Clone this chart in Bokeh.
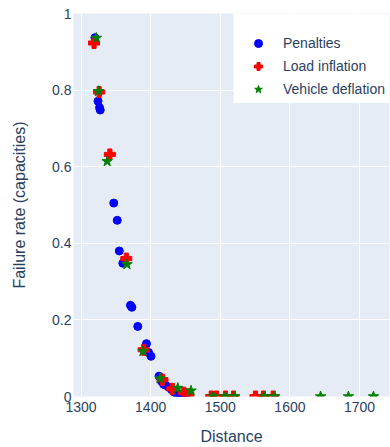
from bokeh.plotting import figure
from bokeh.models import Range1d, FixedTicker, Legend, LegendItem, BoxAnnotation
from bokeh.embed import file_html
from bokeh.resources import INLINE

# ---- data ----
pen_x = [1320, 1324.4, 1326.6, 1327.6, 1347, 1352, 1355, 1360, 1371, 1373,
         1381.5, 1394, 1397, 1400.5, 1412, 1415.5, 1418.5, 1421, 1425.5, 1430,
         1433.5, 1438, 1441.5, 1446, 1450]
pen_y = [0.937, 0.771, 0.754, 0.748, 0.505, 0.460, 0.380, 0.348, 0.238, 0.233,
         0.183, 0.138, 0.115, 0.105, 0.053, 0.040, 0.032, 0.030, 0.025, 0.018,
         0.012, 0.006, 0.003, 0.001, 0.0]

load_x = [1318.7, 1326, 1341.4, 1365, 1390, 1417, 1431, 1447.6, 1454,
          1487, 1494.5, 1507.5, 1519, 1550.5, 1562, 1576]
load_y = [0.923, 0.795, 0.632, 0.360, 0.122, 0.044, 0.020, 0.010, 0.006,
          0, 0, 0, 0, 0, 0, 0]

veh_x = [1322, 1325, 1337.6, 1366, 1389, 1413.5, 1439, 1458,
         1490, 1507.5, 1520.5, 1563.5, 1578, 1644, 1684, 1720]
veh_y = [0.936, 0.797, 0.614, 0.345, 0.118, 0.047, 0.022, 0.015,
         0, 0, 0, 0, 0, 0, 0, 0]

x_ticks = [1300, 1400, 1500, 1600, 1700]
y_ticks = [0, 0.2, 0.4, 0.6, 0.8, 1]
y_tick_labels = ["0", "0.2", "0.4", "0.6", "0.8", "1"]

series_names = ["Penalties", "Load inflation", "Vehicle deflation"]
x_title = "Distance"
y_title = "Failure rate (capacities)"

FONT = "Liberation Sans"
TXT = "#2a3f5f"

p = figure(width=390, height=447, output_backend="svg", toolbar_location=None,
           x_range=Range1d(1289.2, 1743.0), y_range=Range1d(0, 1),
           min_border_left=73, min_border_right=1, min_border_top=13,
           min_border_bottom=51)
p.background_fill_color = "#E5ECF6"
p.border_fill_color = "white"
p.outline_line_color = None

for ax in (p.xaxis[0], p.yaxis[0]):
    ax.axis_line_color = None
    ax.major_tick_line_color = None
    ax.minor_tick_line_color = None
    ax.major_tick_in = 0
    ax.major_tick_out = 0
    ax.minor_tick_in = 0
    ax.minor_tick_out = 0
    ax.major_label_text_font = FONT
    ax.major_label_text_font_size = "14px"
    ax.major_label_text_color = TXT
    ax.axis_label_text_font = FONT
    ax.axis_label_text_font_size = "16px"
    ax.axis_label_text_color = TXT
    ax.axis_label_text_font_style = "normal"

p.xaxis.ticker = FixedTicker(ticks=x_ticks)
p.yaxis.ticker = FixedTicker(ticks=y_ticks)
p.yaxis.major_label_overrides = {t: l for t, l in zip(y_ticks, y_tick_labels)}
p.xaxis.axis_label = x_title
p.yaxis.axis_label = y_title
p.xaxis.major_label_standoff = 5
p.xaxis.axis_label_standoff = 13
p.yaxis.major_label_standoff = 2
p.yaxis.axis_label_standoff = 21

p.xgrid.grid_line_color = "white"
p.ygrid.grid_line_color = "white"
p.xgrid.grid_line_width = 1
p.ygrid.grid_line_width = 1

r1 = p.scatter(pen_x, pen_y, marker="circle", size=8, fill_color="blue", line_color="blue")
r2 = p.scatter(load_x, load_y, marker="plus", size=11, fill_color="red", line_color="red")
r3 = p.scatter(veh_x, veh_y, marker="star", size=11, fill_color="green", line_color="green")

# white legend background
p.add_layout(BoxAnnotation(left=1519, bottom=0.766, fill_color="white", fill_alpha=1.0,
                           line_alpha=0, level="overlay"))

legend = Legend(items=[LegendItem(label=series_names[0], renderers=[r1]),
                       LegendItem(label=series_names[1], renderers=[r2]),
                       LegendItem(label=series_names[2], renderers=[r3])],
                location=(175, 297))
legend.background_fill_alpha = 0
legend.border_line_color = None
legend.padding = 6
legend.spacing = 3
legend.label_height = 20
legend.glyph_height = 20
legend.glyph_width = 20
legend.label_standoff = 15
legend.margin = 0
legend.label_text_font = FONT
legend.label_text_font_size = "14px"
legend.label_text_color = TXT
p.add_layout(legend, "center")

open("out.html", "w").write(file_html(p, INLINE))
